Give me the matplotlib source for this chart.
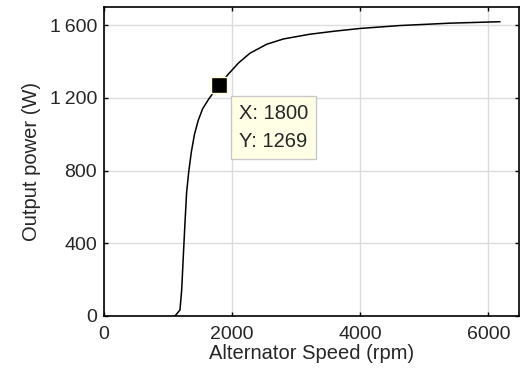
import matplotlib
matplotlib.use("Agg")
import matplotlib.pyplot as plt

speed_rpm = [1108, 1186, 1213, 1238, 1264, 1290, 1325, 1365, 1413, 1470, 1540, 1640, 1700,
             1800, 1940, 2100, 2280, 2540, 2800, 3210, 3600, 4000, 4620, 5400, 6180]
power_w = [0, 33, 143, 326, 510, 680, 800, 905, 1000, 1075, 1140, 1196, 1225,
           1269, 1330, 1392, 1446, 1495, 1524, 1550, 1567, 1582, 1598, 1611, 1619]
tip_x = 1800
tip_y = 1269
xticks = [0, 2000, 4000, 6000]
yticks = [0, 400, 800, 1200, 1600]
ytick_labels = ["0", "400", "800", "1\u2009200", "1\u2009600"]

plt.rcParams['font.family'] = ['Liberation Sans', 'DejaVu Sans']
txt = '#262626'

fig = plt.figure(figsize=(5.2, 3.76), dpi=100)
ax = fig.add_axes([104/520, 60/376, 415/520, 309/376])

ax.plot(speed_rpm, power_w, color='black', lw=1.1, zorder=3)
ax.plot([tip_x], [tip_y], marker='s', ms=11.5, mfc='black', mec='#FFFFD0', mew=1.0,
        ls='none', zorder=5)
ax.annotate(f"X: {tip_x}\nY: {tip_y}", xy=(tip_x, tip_y), xytext=(14, -13.5),
            textcoords='offset points', ha='left', va='top', fontsize=14.5, color=txt,
            linespacing=1.6,
            bbox=dict(boxstyle='square,pad=0.4', fc='#FFFFE6', ec='#C8C8C8', lw=1.0),
            zorder=6)

ax.set_xlim(0, 6480)
ax.set_ylim(0, 1700)
ax.set_xticks(xticks)
ax.set_yticks(yticks)
ax.set_yticklabels(ytick_labels)
ax.grid(True, color='#DCDCDC', lw=1.0)
ax.set_axisbelow(True)
ax.tick_params(direction='in', length=3, width=1, top=True, right=True,
               labelsize=14, labelcolor=txt, colors='black')
ax.tick_params(axis='x', pad=7)
ax.tick_params(axis='y', pad=5)
for s in ax.spines.values():
    s.set_linewidth(1.2)
    s.set_color('black')

ax.set_xlabel("Alternator Speed (rpm)", fontsize=14.5, color=txt, labelpad=1)
ax.set_ylabel("Output power (W)", fontsize=14.5, color=txt, labelpad=6)

fig.savefig("out.png", dpi=100)
